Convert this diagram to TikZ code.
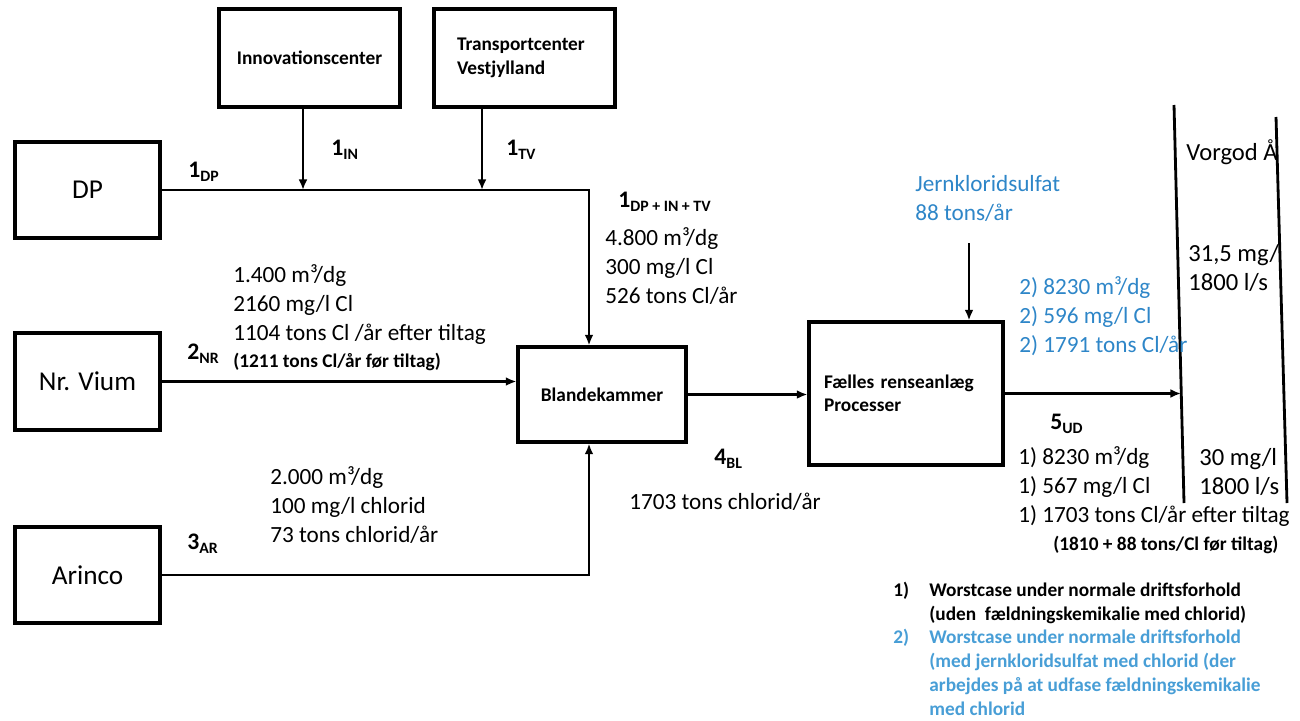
\documentclass[tikz,border=0pt]{standalone}
\usepackage{fontspec}
\setmainfont{Carlito}
\usetikzlibrary{positioning, arrows.meta}
\definecolor{aqua}{RGB}{46,134,200}
\definecolor{aqualight}{RGB}{72,158,214}
\tikzstyle{box} = [draw, line width=1.8pt, inner sep=0pt]
\tikzstyle{plant} = [box, minimum width=2.9cm, font=\fontsize{15.5}{18}\selectfont]
\tikzstyle{flow} = [line width=1.6pt, ->]
\tikzstyle{txt} = [anchor=base west, inner sep=0pt, align=left, font=\fontsize{13.2}{16.5}\selectfont]
\tikzstyle{rtxt} = [txt, font=\fontsize{14}{16.5}\selectfont]
\tikzstyle{note} = [anchor=base west, inner sep=0pt, align=left, font=\bfseries\fontsize{11}{13.5}\selectfont]
\tikzstyle{bluetxt} = [txt, text=aqua]
\newcommand{\flowlab}[2]{\textbf{\fontsize{13.5}{14}\selectfont #1\raisebox{-0.35ex}{\fontsize{9}{9}\selectfont #2}}}

\begin{document}
\begin{tikzpicture}[x=0.02cm, y=-0.02cm, >={Latex[length=6pt,width=5pt]}]
\useasboundingbox (0,0) rectangle (1300,720);
% boxes
\node[box, minimum width=3.62cm, minimum height=1.96cm, font=\bfseries\fontsize{11}{13.4}\selectfont] (innov) at (309.5,58) {Innovationscenter};
\node[box, minimum width=3.62cm, minimum height=1.96cm, text width=2.7cm, align=left, font=\bfseries\fontsize{11}{13.4}\selectfont] (trans) at (524.5,58) {Transportcenter\\Vestjylland};
\node[plant, minimum height=1.92cm] (dp) at (87.5,190) {DP};
\node[plant, minimum height=1.94cm] (nrv) at (87.5,381.5) {Nr. Vium};
\node[plant, minimum height=1.92cm] (arin) at (87.5,575) {Arinco};
\node[box, minimum width=3.36cm, minimum height=1.9cm, font=\bfseries\fontsize{11}{13.4}\selectfont] (blk) at (602,394.5) {Blandekammer};
\node[box, minimum width=3.88cm, minimum height=2.86cm, text width=3.28cm, align=left, font=\bfseries\fontsize{11}{13.4}\selectfont] (fael) at (906,393.5) {Fælles renseanlæg\\Processer};

% river
\draw[line width=1.6pt] (1174,105) -- (1184,503);
\draw[line width=1.6pt] (1276,117) -- (1287,503);
\coordinate (rv) at (1181,394);
\coordinate (dpc) at (589,190);
\coordinate (jt) at (969,243);

% flows
\draw[flow] (dp.east) -- (dpc) -- (dpc |- blk.north);
\draw[flow] ([xshift=-0.13cm]innov.south) -- ([xshift=-0.13cm]innov.south |- dp.east);
\draw[flow] ([xshift=-0.85cm]trans.south) -- ([xshift=-0.85cm]trans.south |- dp.east);
\draw[flow] (nrv.east) -- (nrv.east -| blk.west);
\draw[flow] (arin.east) -- (dpc |- arin.east) -- (dpc |- blk.south);
\draw[flow] (blk.east) -- (blk.east -| fael.west);
\draw[flow] (fael.east) -- (fael.east -| rv);
\draw[flow] (jt) -- (jt |- fael.north);

% flow labels
\node[anchor=base west, inner sep=0pt] (l1dp) at (188,177) {\flowlab{1}{DP}};
\node[anchor=base west, inner sep=0pt] (l1in) at (331,155) {\flowlab{1}{IN}};
\node[anchor=base west, inner sep=0pt] (l1tv) at (506,155) {\flowlab{1}{TV}};
\node[anchor=base west, inner sep=0pt] (l1sum) at (618,207) {\flowlab{1}{DP + IN + TV}};
\node[anchor=base west, inner sep=0pt] (l2nr) at (187,359) {\flowlab{2}{NR}};
\node[anchor=base west, inner sep=0pt] (l3ar) at (187,549) {\flowlab{3}{AR}};
\node[anchor=base west, inner sep=0pt] (l4bl) at (714,464) {\flowlab{4}{BL}};
\node[anchor=base west, inner sep=0pt] (l5ud) at (1050,429) {\flowlab{5}{UD}};

% data (base = last line)
\node[txt] (d1) at (605,303) {4.800 m³/dg\\300 mg/l Cl\\526 tons Cl/år};
\node[txt] (d2) at (233,340) {1.400 m³/dg\\2160 mg/l Cl\\1104 tons Cl /år efter tiltag};
\node[note] (d2f) at (233,367) {(1211 tons Cl/år før tiltag)};
\node[txt] (d3) at (270,542) {2.000 m³/dg\\100 mg/l chlorid\\73 tons chlorid/år};
\node[txt] (d4) at (629,509) {1703 tons chlorid/år};
\node[bluetxt] (jern) at (915,220) {Jernkloridsulfat\\88 tons/år};
\node[bluetxt] (d5b) at (1019,352) {2) 8230 m³/dg\\2) 596 mg/l Cl\\2) 1791 tons Cl/år};
\node[txt] (d5a) at (1018,522) {1) 8230 m³/dg\\1) 567 mg/l Cl\\1) 1703 tons Cl/år efter tiltag};
\node[note] (d5f) at (1053,550) {(1810 + 88 tons/Cl før tiltag)};
\node[rtxt] (vorgod) at (1186,160) {Vorgod Å};
\node[rtxt] (r1) at (1188,290) {31,5 mg/\\1800 l/s};
\node[rtxt] (r2) at (1199,494) {30 mg/l\\1800 l/s};

% notes
\node[note] (n1) at (893,596) {1)};
\node[note] (n1t) at (929,620) {Worstcase under normale driftsforhold\\(uden\ \ fældningskemikalie med chlorid)};
\node[note, text=aqualight] (n2) at (893,643) {2)};
\node[note, text=aqualight] (n2t) at (929,715) {Worstcase under normale driftsforhold\\(med jernkloridsulfat med chlorid (der\\arbejdes på at udfase fældningskemikalie\\med chlorid};
\end{tikzpicture}
\end{document}
